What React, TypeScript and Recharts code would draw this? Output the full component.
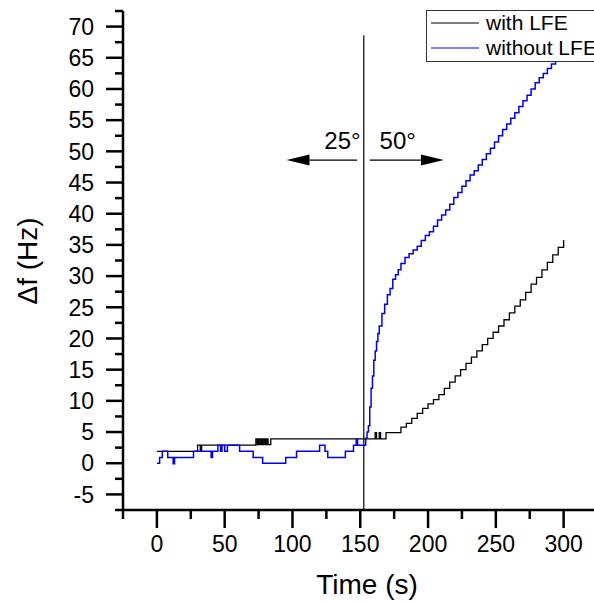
import { LineChart, Line, XAxis, YAxis, ReferenceLine } from 'recharts';

const FONT = '"Liberation Sans", Arial, sans-serif';

// with LFE (black)
const timesWith = [
  0, 30, 32, 33, 73, 74, 75, 76, 77, 78, 79, 80, 81, 82, 84, 161, 162, 164, 165, 169,
  180, 184, 188, 192, 196, 200, 204, 208, 212, 216, 220, 224, 228, 232, 236, 240, 244, 248,
  252, 256, 260, 264, 268, 272, 276, 280, 284, 288, 292, 296, 300,
];
const valuesWith = [
  1.9, 2.9, 1.9, 2.9, 3.9, 3.0, 3.9, 3.0, 3.9, 3.0, 3.9, 3.0, 3.9, 3.0, 3.9, 4.9, 3.9, 4.9, 3.9, 4.9,
  5.8, 6.4, 7.2, 8.0, 8.8, 9.5, 10.2, 11.0, 12.0, 13.0, 14.0, 15.0, 16.0, 17.0, 18.0, 19.0, 20.0, 21.0,
  22.0, 23.0, 24.1, 25.2, 26.2, 27.4, 28.7, 29.8, 31.0, 32.2, 33.4, 34.6, 35.8,
];

// without LFE (blue)
const timesWithout = [
  0, 2, 4, 8, 12, 13, 27, 40, 41, 45, 47, 48, 50, 52, 61, 71, 78, 95, 103, 120, 124, 126, 139, 145,
  147, 148, 152.6, 154, 155, 156, 157, 158, 159, 160, 161, 162, 163, 164, 166, 168, 170, 172, 174,
  176, 178, 180, 183, 186, 189, 192, 195, 198, 201, 204, 207, 210, 213, 216, 219, 222, 225, 228,
  231, 234, 237, 240, 243, 246, 249, 252, 255, 258, 261, 264, 267, 270, 273, 276, 279, 282, 285,
  288, 291, 294, 297, 300,
];
const valuesWithout = [
  0, 0.9, 1.9, 0.9, -0.1, 0.9, 1.9, 0.9, 1.9, 2.9, 1.9, 2.9, 1.9, 2.9, 1.9, 0.9, 0, 0.9, 1.9, 2.9,
  1.9, 0.9, 1.9, 2.9, 3.9, 2.9, 2.9, 4, 5, 6, 9, 12, 14, 16.5, 18, 19.5, 20.8, 22, 24, 25.5, 27, 28,
  29.5, 30.2, 31, 32, 33, 33.6, 34.2, 34.8, 35.7, 36.5, 37.1, 38, 39, 39.8, 40.6, 41.5, 42.6, 43.4,
  44.4, 45.3, 46.2, 46.9, 47.8, 48.7, 49.6, 50.5, 51.5, 52.5, 53.5, 54.4, 55.3, 56.2, 57.2, 58.1,
  59, 60, 61, 61.8, 62.5, 63.3, 64, 64.5, 65.4, 66,
];

const xTicks = [-25, 0, 25, 50, 75, 100, 125, 150, 175, 200, 225, 250, 275, 300];
const yTicks = [
  -7.5, -5, -2.5, 0, 2.5, 5, 7.5, 10, 12.5, 15, 17.5, 20, 22.5, 25, 27.5, 30, 32.5, 35, 37.5, 40,
  42.5, 45, 47.5, 50, 52.5, 55, 57.5, 60, 62.5, 65, 67.5, 70, 72.5,
];

const switchTime = 152.6;
const arrowLevel = 48.6;

const withData = timesWith.map((t, i) => ({ t, v: valuesWith[i] }));
const withoutData = timesWithout.map((t, i) => ({ t, v: valuesWithout[i] }));

const XTick = (props: any) => {
  const { x, y, payload } = props;
  const major = payload.value % 50 === 0;
  return (
    <g>
      <line x1={x} y1={y} x2={x} y2={y + (major ? 18 : 9)} stroke="#000" strokeWidth={2.5} />
      {major && (
        <text x={x} y={y + 41.5} textAnchor="middle" fontSize={23} fontFamily={FONT} fill="#000">
          {payload.value}
        </text>
      )}
    </g>
  );
};

const YTick = (props: any) => {
  const { x, y, payload } = props;
  const major = payload.value % 5 === 0;
  return (
    <g>
      <line x1={x - (major ? 17 : 8)} y1={y} x2={x} y2={y} stroke="#000" strokeWidth={2.5} />
      {major && (
        <text x={x - 29} y={y} dy="0.36em" textAnchor="end" fontSize={23} fontFamily={FONT} fill="#000">
          {payload.value}
        </text>
      )}
    </g>
  );
};

const arrowShape = (label: string, side: 'left' | 'right') => (p: any) => {
  const { x1, y1, x2 } = p;
  const dir = x2 > x1 ? 1 : -1;
  const base = x2 - dir * 23;
  return (
    <g>
      <line x1={x1} y1={y1} x2={base} y2={y1} stroke="#000" strokeWidth={1.2} />
      <polygon points={`${x2},${y1} ${base},${y1 - 5.5} ${base},${y1 + 5.5}`} fill="#000" />
      <text
        x={side === 'left' ? x1 + 3.5 : x1 + 10}
        y={y1 - 11}
        textAnchor={side === 'left' ? 'end' : 'start'}
        fontSize={24}
        fontFamily={FONT}
        fill="#000"
      >
        {label}
      </text>
    </g>
  );
};

// legend box runs past the right edge, like the cropped original
const LegendBox = () => (
  <svg width={230} height={53} style={{ display: 'block' }}>
    <rect x={0.5} y={0.5} width={228} height={51} fill="#fff" stroke="#333" strokeWidth={1} />
    <line x1={5} y1={13} x2={53} y2={13} stroke="#000" strokeWidth={1.2} />
    <text x={60} y={20} fontSize={21} fontFamily={FONT} fill="#000">with LFE</text>
    <line x1={5} y1={38} x2={53} y2={38} stroke="#0000ff" strokeWidth={1.2} />
    <text x={60} y={45} fontSize={21} fontFamily={FONT} fill="#000">without LFE</text>
  </svg>
);

export default function App() {
  return (
    <div style={{ position: 'absolute', left: 0, top: 0, width: 594, height: 603, overflow: 'hidden', background: '#fff' }}>
      <LineChart width={594} height={603} margin={{ top: 11, right: 0, bottom: 0, left: 0 }}>
        <XAxis
          dataKey="t"
          type="number"
          domain={[-25, 322.4]}
          ticks={xTicks}
          interval={0}
          allowDataOverflow
          height={93}
          axisLine={{ stroke: '#000', strokeWidth: 2.5 }}
          tickLine={false}
          tickSize={0}
          tickMargin={0}
          tick={<XTick />}
          label={{
            content: () => (
              <text x={367} y={594} textAnchor="middle" fontSize={28} fontFamily={FONT} fill="#000">
                Time (s)
              </text>
            ),
          }}
        />
        <YAxis
          type="number"
          domain={[-7.5, 72.5]}
          ticks={yTicks}
          interval={0}
          allowDataOverflow
          width={123}
          axisLine={{ stroke: '#000', strokeWidth: 2.5 }}
          tickLine={false}
          tickSize={0}
          tickMargin={0}
          tick={<YTick />}
          label={{
            content: () => (
              <text
                x={37}
                y={261}
                transform="rotate(-90 37 261)"
                textAnchor="middle"
                fontSize={28}
                fontFamily={FONT}
                fill="#000"
              >
                Δf (Hz)
              </text>
            ),
          }}
        />
        <ReferenceLine
          segment={[{ x: switchTime, y: 68.6 }, { x: switchTime, y: -7.5 }]}
          stroke="#000"
          strokeWidth={1.2}
        />
        <ReferenceLine
          segment={[{ x: 147.7, y: arrowLevel }, { x: 95.6, y: arrowLevel }]}
          shape={arrowShape('25°', 'left')}
        />
        <ReferenceLine
          segment={[{ x: 156.9, y: arrowLevel }, { x: 211.7, y: arrowLevel }]}
          shape={arrowShape('50°', 'right')}
        />
        <Line
          data={withData}
          dataKey="v"
          name="with LFE"
          type="stepAfter"
          stroke="#000"
          strokeWidth={1.3}
          dot={false}
          isAnimationActive={false}
        />
        <Line
          data={withoutData}
          dataKey="v"
          name="without LFE"
          type="stepAfter"
          stroke="#0000ff"
          strokeWidth={1.5}
          dot={false}
          isAnimationActive={false}
        />
      </LineChart>
      <div style={{ position: 'absolute', left: 426, top: 10 }}>
        <LegendBox />
      </div>
    </div>
  );
}
